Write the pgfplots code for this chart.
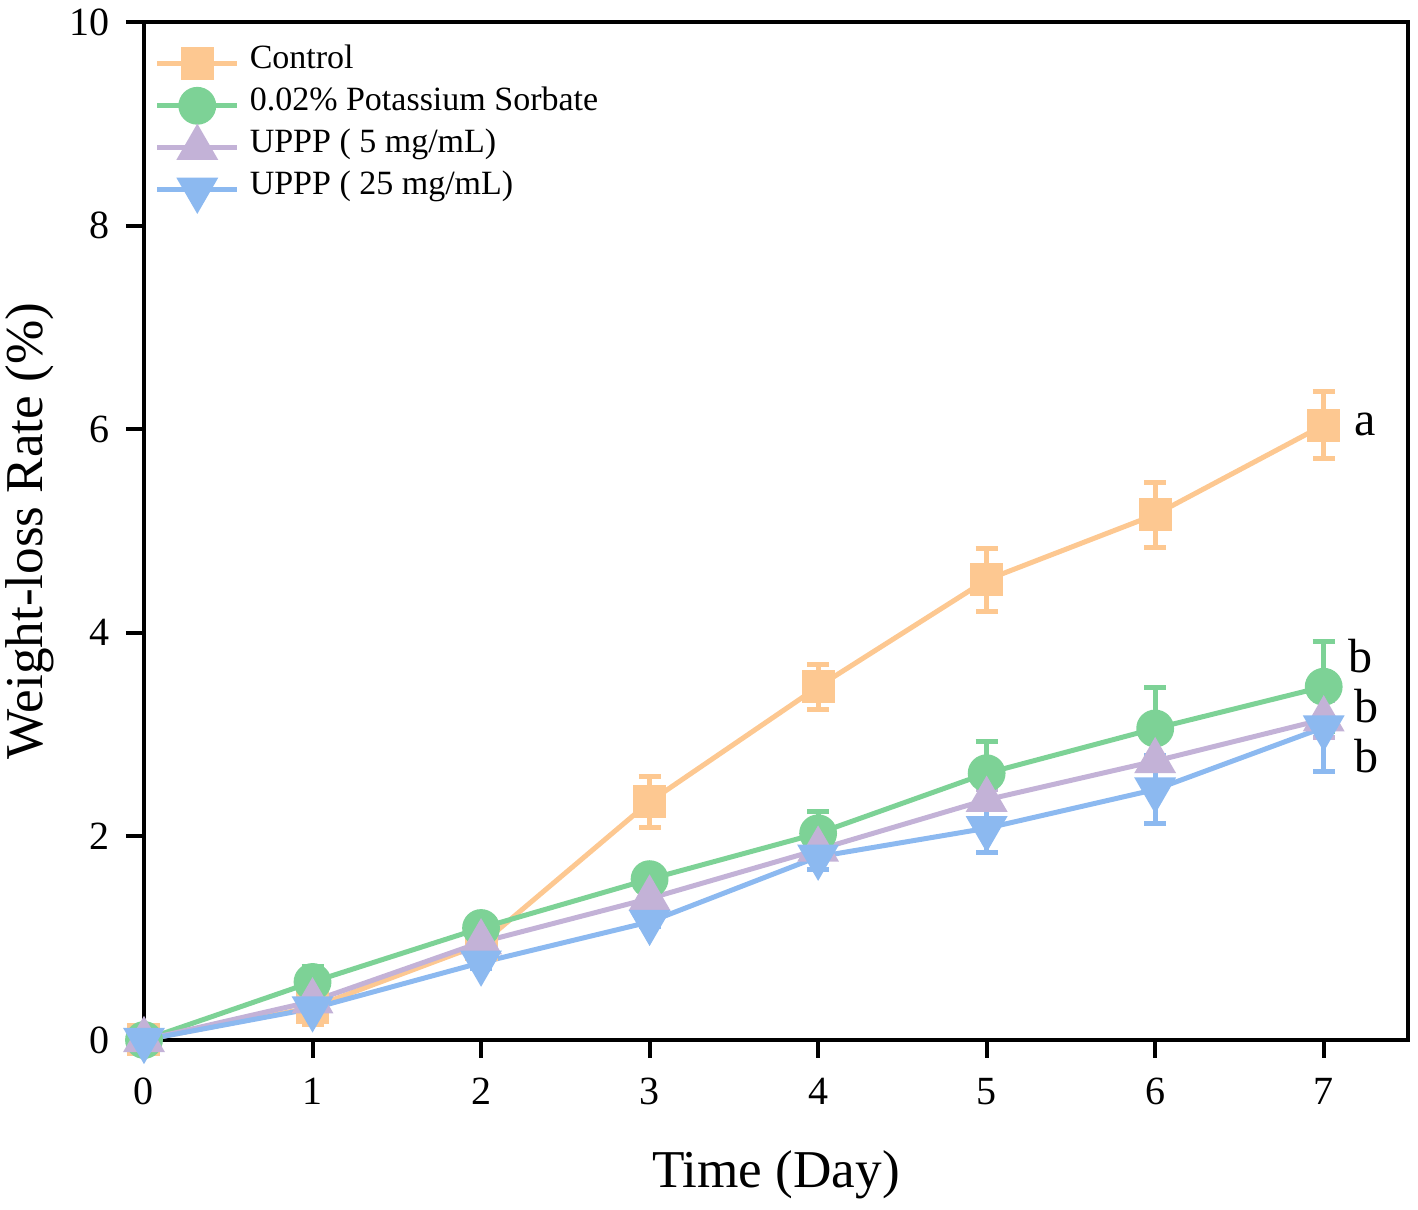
\documentclass[border=0pt]{standalone}
\usepackage{fontspec}
\setmainfont{Liberation Serif}
\usepackage{pgfplots}
\pgfplotsset{compat=1.18}
\definecolor{cOr}{RGB}{253,200,145}
\definecolor{cGr}{RGB}{125,210,150}
\definecolor{cPu}{RGB}{195,178,215}
\definecolor{cBl}{RGB}{140,185,240}
\begin{document}
\begin{tikzpicture}
\path[use as bounding box] (-36pt,-42.5pt) rectangle (318.5pt,260pt);
\begin{axis}[
  at={(0,0)}, anchor=south west,
  width=316pt, height=254.5pt, scale only axis,
  xmin=0, xmax=7.5, ymin=0, ymax=10,
  xtick={0,1,2,3,4,5,6,7}, ytick={0,2,4,6,8,10},
  xtick pos=bottom, ytick pos=left,
  tick align=outside, major tick length=4.5pt,
  tick style={line width=1pt, black},
  axis line style={line width=1pt},
  clip=false,
  /pgf/number format/assume math mode=true,
  ticklabel style={font=\fontsize{10}{12}\selectfont},
  xticklabel style={yshift=-1.5pt},
  yticklabel style={xshift=-0.7pt},
  xlabel={Time (Day)},
  ylabel={Weight-loss Rate (\%)},
  xlabel style={at={(axis description cs:0.5,-0.1326)}, anchor=center, font=\fontsize{13.3}{15}\selectfont},
  ylabel style={at={(axis description cs:-0.090,0.5)}, anchor=center, font=\fontsize{13.3}{15}\selectfont},
  legend style={at={(rel axis cs:0,1)}, anchor=north west, draw=none, fill=none,
    inner xsep=2.5pt, inner ysep=5pt, row sep=0pt,
    font=\fontsize{8.5}{10}\selectfont,
    nodes={inner sep=0pt, text height=6.5pt, text depth=4pt},
    /tikz/every odd column/.append style={column sep=2.5pt}},
  legend cell align=left,
  legend image code/.code={\draw[mark repeat=2,mark phase=2] plot coordinates {(0pt,0pt)(10pt,0pt)(20pt,0pt)};},
  error bars/error bar style={line width=1.25pt},
  error bars/error mark options={rotate=90, mark size=2.75pt, line width=1.25pt},
]
\addplot[cOr, line width=1.25pt, mark=square*, mark size=3.5pt, mark options={fill=cOr, draw=cOr},
  error bars/.cd, y dir=both, y explicit]
  table[x=x, y=y, y error=e] {
x y e
0 0 0.05
1 0.32 0.17
2 0.94 0.12
3 2.34 0.25
4 3.47 0.22
5 4.52 0.31
6 5.16 0.32
7 6.04 0.33
};
\addlegendentry{Control}
\addplot[cGr, line width=1.25pt, mark=*, mark size=4.1pt, mark options={fill=cGr, draw=cGr},
  error bars/.cd, y dir=both, y explicit]
  table[x=x, y=y, y error=e] {
x y e
0 0 0.03
1 0.57 0.15
2 1.10 0.06
3 1.58 0.05
4 2.03 0.21
5 2.62 0.31
6 3.06 0.40
7 3.47 0.44
};
\addlegendentry{0.02\% Potassium Sorbate}
\addplot[cPu, line width=1.25pt, mark=triangle*, mark size=4.8pt, mark options={fill=cPu, draw=cPu},
  error bars/.cd, y dir=both, y explicit]
  table[x=x, y=y, y error=e] {
x y e
0 0 0.03
1 0.38 0.10
2 0.96 0.12
3 1.39 0.05
4 1.87 0.08
5 2.36 0.10
6 2.74 0.20
7 3.15 0.18
};
\addlegendentry{UPPP ( 5 mg/mL)}
\addplot[cBl, line width=1.25pt, mark=triangle*, mark size=4.8pt, mark options={fill=cBl, draw=cBl, rotate=180},
  error bars/.cd, y dir=both, y explicit]
  table[x=x, y=y, y error=e] {
x y e
0 0 0.05
1 0.31 0.12
2 0.76 0.06
3 1.16 0.05
4 1.80 0.13
5 2.08 0.24
6 2.46 0.33
7 3.07 0.43
};
\addlegendentry{UPPP ( 25 mg/mL)}
\node[font=\fontsize{12}{14}\selectfont, anchor=base west, inner sep=0pt] at (axis cs:7.18,5.94) {a};
\node[font=\fontsize{12}{14}\selectfont, anchor=base west, inner sep=0pt] at (axis cs:7.14,3.61) {b};
\node[font=\fontsize{12}{14}\selectfont, anchor=base west, inner sep=0pt] at (axis cs:7.18,3.12) {b};
\node[font=\fontsize{12}{14}\selectfont, anchor=base west, inner sep=0pt] at (axis cs:7.18,2.63) {b};
\end{axis}
\end{tikzpicture}
\end{document}
